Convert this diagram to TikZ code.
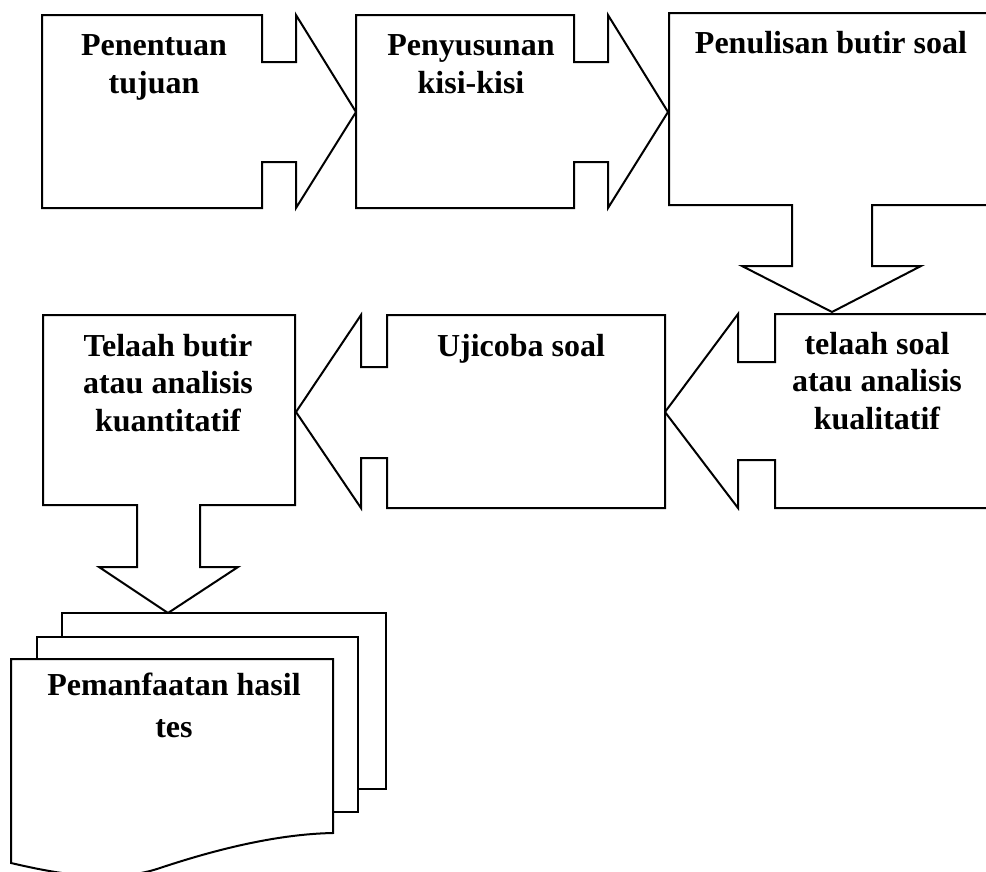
\documentclass[tikz,border=0pt]{standalone}
\usepackage{fontspec}
\setmainfont{Liberation Serif}
\usepackage{tikz}

\begin{document}
\begin{tikzpicture}[x=1pt, y=-1pt,
    arrowbox/.style={draw, fill=white, line width=2pt, line join=miter},
    boxtext/.style={font=\fontsize{32}{37.5}\selectfont\bfseries, align=center, anchor=base, inner sep=0pt}]

    % Page frame
    \useasboundingbox (0,0) rectangle (986,871);
    \clip (0,0) rectangle (986,871);

    % Penentuan tujuan (right arrow callout)
    \draw[arrowbox] (42,15) -- (262,15) -- (262,62) -- (296,62) -- (296,15) -- (356,112) -- (296,208) -- (296,162) -- (262,162) -- (262,208) -- (42,208) -- cycle;

    % Penyusunan kisi-kisi (right arrow callout)
    \draw[arrowbox] (356,15) -- (574,15) -- (574,62) -- (608,62) -- (608,15) -- (668,112) -- (608,208) -- (608,162) -- (574,162) -- (574,208) -- (356,208) -- cycle;

    % Penulisan butir soal (down arrow callout)
    \draw[arrowbox] (669,13) -- (995,13) -- (995,205) -- (872,205) -- (872,266) -- (921,266) -- (832,312) -- (742,266) -- (792,266) -- (792,205) -- (669,205) -- cycle;

    % telaah soal (left arrow callout)
    \draw[arrowbox] (995,314) -- (775,314) -- (775,362) -- (738,362) -- (738,314) -- (665,412) -- (738,508) -- (738,460) -- (775,460) -- (775,508) -- (995,508) -- cycle;

    % Ujicoba soal (left arrow callout)
    \draw[arrowbox] (665,315) -- (387,315) -- (387,367) -- (361,367) -- (361,315) -- (296,412) -- (361,508) -- (361,458) -- (387,458) -- (387,508) -- (665,508) -- cycle;

    % Telaah butir (down arrow callout)
    \draw[arrowbox] (43,315) -- (295,315) -- (295,505) -- (200,505) -- (200,567) -- (238,567) -- (168,613) -- (99,567) -- (137,567) -- (137,505) -- (43,505) -- cycle;

    % Pemanfaatan hasil tes (stack of documents)
    \draw[arrowbox] (62,613) -- (386,613) -- (386,789) -- (62,789) -- cycle;
    \draw[arrowbox] (37,637) -- (358,637) -- (358,812) -- (37,812) -- cycle;
    \draw[arrowbox] (11,863) -- (11,659) -- (333,659) -- (333,833) .. controls (280,834) and (220,848) .. (160,868) .. controls (110,885) and (50,872) .. (11,863) -- cycle;

    % Include text at the boxes (base = last line)
    \node[boxtext] (tujuan) at (154,93) {Penentuan\\tujuan};
    \node[boxtext] (kisi) at (471,93) {Penyusunan\\kisi-kisi};
    \node[boxtext] (penulisan) at (831,53) {Penulisan butir soal};
    \node[boxtext] (kualitatif) at (877,429) {telaah soal\\atau analisis\\kualitatif};
    \node[boxtext] (ujicoba) at (521,356) {Ujicoba soal};
    \node[boxtext] (kuantitatif) at (168,431) {Telaah butir\\atau analisis\\kuantitatif};
    \node[boxtext] (pemanfaatan) at (174,737) {Pemanfaatan hasil\\[4pt]tes};
  \end{tikzpicture}
\end{document}
